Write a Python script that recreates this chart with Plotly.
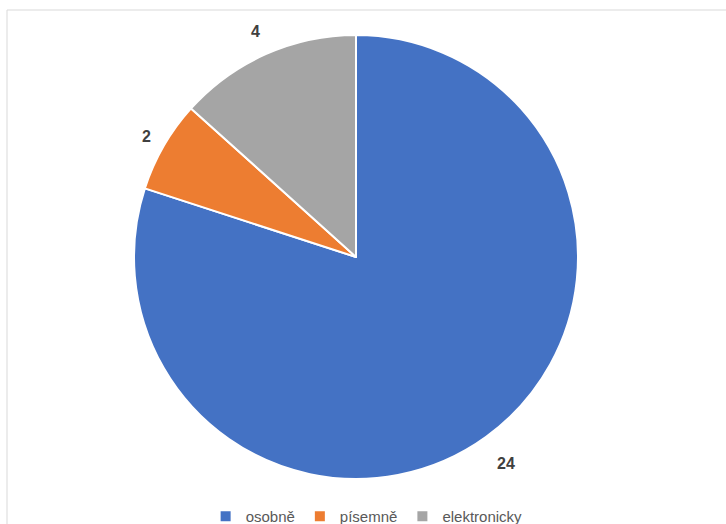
import math
import plotly.graph_objects as go

labels = ["osobně", "písemně", "elektronicky"]
values = [24, 2, 4]
colors = ["#4472C4", "#ED7D31", "#A5A5A5"]
label_dist = [255, 242, 247]  # distance of value label from pie centre, px

W, H = 726, 524
cx, cy, r = 356, 257, 222

fig = go.Figure(go.Pie(
    labels=labels, values=values, sort=False, direction="clockwise", rotation=0,
    marker=dict(colors=colors, line=dict(color="white", width=2)),
    textinfo="none", hoverinfo="label+value",
    domain=dict(x=[(cx - r) / W, (cx + r) / W], y=[1 - (cy + r) / H, 1 - (cy - r) / H]),
    showlegend=True,
))

total = sum(values)
annotations = []
acc = 0
for v, d in zip(values, label_dist):
    mid = (acc + v / 2) / total * 2 * math.pi
    acc += v
    px = cx + d * math.sin(mid)
    py = cy - d * math.cos(mid)
    annotations.append(dict(x=px / W, y=1 - py / H, xref="paper", yref="paper", text=str(v),
                            showarrow=False, xanchor="center", yanchor="middle",
                            font=dict(family="Liberation Sans, Arial", size=16, color="#404040",
                                      weight="bold")))

fig.update_layout(
    width=W, height=H, margin=dict(l=0, r=0, t=0, b=0, autoexpand=False),
    paper_bgcolor="white",
    font=dict(family="Liberation Sans, Arial", color="#595959"),
    legend=dict(orientation="h", x=0.505, xanchor="center", y=-0.017, yanchor="bottom",
                font=dict(size=15, color="#595959"), itemwidth=30),
    annotations=annotations,
    shapes=[dict(type="rect", xref="paper", yref="paper", x0=7 / W, x1=1.05, y0=-0.05, y1=1 - 10 / H,
                 line=dict(color="#D9D9D9", width=1), fillcolor="rgba(0,0,0,0)", layer="below")],
)

fig.write_html("out.html", config={"displayModeBar": False},
               post_script="document.body.style.margin='0';")
